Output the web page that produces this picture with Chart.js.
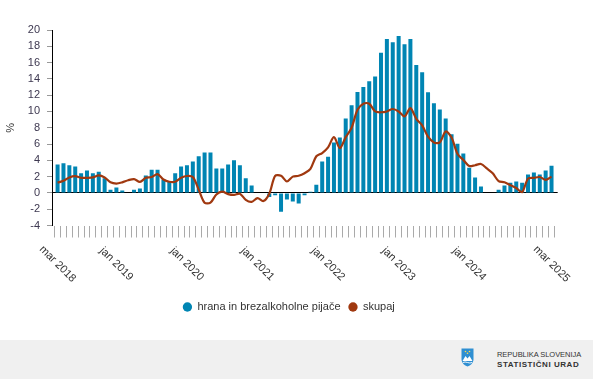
<!DOCTYPE html>
<html>
<head>
<meta charset="utf-8">
<script src="https://cdn.jsdelivr.net/npm/chart.js@4/dist/chart.umd.min.js"></script>
<style>
  html, body { margin: 0; padding: 0; background: #fff; }
  #wrap { position: relative; width: 593px; height: 379px; overflow: hidden; font-family: "Liberation Sans", Arial, sans-serif; }
  #c { position: absolute; left: 0; top: 0; }
  #footer { position: absolute; left: 0; top: 340px; width: 593px; height: 39px; background: #f0f0f0; }
  #logo { position: absolute; left: 461px; top: 348px; }
  #t1 { position: absolute; left: 497px; top: 350px; font-size: 7.5px; color: #333; letter-spacing: -0.05px; white-space: nowrap; }
  #t2 { position: absolute; left: 497px; top: 360px; font-size: 8px; font-weight: bold; color: #333; letter-spacing: 0.55px; white-space: nowrap; }
</style>
</head>
<body>
<div id="wrap">
  <canvas id="c" width="593" height="340"></canvas>
  <div id="footer"></div>
  <svg id="logo" width="13" height="19" viewBox="0 0 13 19">
    <path d="M0.5 0.5 H12.5 V11 C12.5 15 9.5 17.5 6.5 18.5 C3.5 17.5 0.5 15 0.5 11 Z" fill="#2f8fd2"/>
    <path d="M1.5 13 L4.5 8 L6.5 10.5 L8.5 8 L11.5 13 Z" fill="#fff"/>
    <path d="M2 14.5 Q4 13.5 6.5 14.5 Q9 15.5 11 14.5" stroke="#fff" stroke-width="0.9" fill="none"/>
    <circle cx="4.5" cy="3.5" r="0.8" fill="#ffd94a"/>
    <circle cx="8.5" cy="3.5" r="0.8" fill="#ffd94a"/>
    <circle cx="6.5" cy="5.3" r="0.8" fill="#ffd94a"/>
  </svg>
  <div id="t1">REPUBLIKA SLOVENIJA</div>
  <div id="t2">STATISTIČNI URAD</div>
</div>
<script>
// ---- data ----
const monthNames = ['jan','feb','mar','apr','maj','jun','jul','avg','sep','okt','nov','dec'];
const categories = [];
for (let y = 2018; y <= 2025; y++) {
  for (let m = 0; m < 12; m++) {
    if ((y === 2018 && m < 2) || (y === 2025 && m > 2)) continue;
    categories.push(monthNames[m] + ' ' + y);
  }
}
const shownLabels = ['mar 2018','jan 2019','jan 2020','jan 2021','jan 2022','jan 2023','jan 2024','mar 2025'];

const hranaLabel = 'hrana in brezalkoholne pijače';
const hrana = [
  3.5,3.65,3.4,3.25,2.4,2.75,2.4,2.6,1.8,0.4,0.65,0.3,
  0,0.4,0.55,2.15,2.85,2.85,1.65,1.45,2.4,3.25,3.4,3.85,
  4.5,4.95,4.95,3.0,3.0,3.5,4.0,3.4,1.8,0.9,0,0,
  -0.5,-0.3,-2.3,-0.8,-1.05,-1.3,-0.3,0.15,1.0,3.85,4.45,6.2,
  6.8,9.15,10.75,12.4,13.0,13.7,14.3,17.2,18.9,18.5,19.25,18.25,
  18.9,15.7,14.8,12.35,11.0,10.25,9.15,7.2,6.05,4.85,3.1,1.9,
  0.8,0,0,0.4,0.9,1.25,1.4,1.25,2.25,2.5,2.25,2.75,3.35
];
const skupajLabel = 'skupaj';
const skupaj = [
  1.25,1.5,1.9,2.05,1.85,1.85,1.9,2.15,1.9,1.3,1.15,1.3,
  1.55,1.7,1.35,1.85,1.95,2.3,1.65,1.37,1.37,1.85,2.08,1.95,
  0.4,-1.2,-1.2,-0.2,0.15,-0.15,-0.25,-0.1,-0.85,-1.1,-0.65,-1.0,
  -0.1,2.1,2.1,1.4,2.0,2.1,2.42,2.95,4.5,4.9,5.6,6.85,
  5.5,6.85,8.0,10.2,10.95,10.95,10.0,9.9,10.0,10.3,10.0,9.4,
  10.4,9.1,8.3,6.9,6.2,6.2,7.55,6.8,4.8,4.05,3.3,3.4,
  3.55,3.0,2.4,1.45,1.3,0.95,0.6,0.1,1.75,1.85,1.95,1.6,2.0
];
const yMin = -4, yMax = 20, yStep = 2;

// ---- styles ----
const BAR_COLOR = '#0085b3';
const LINE_COLOR = '#a0380f';
const FONT = '"Liberation Sans", Arial, sans-serif';

const xLabelPlugin = {
  id: 'xLabels',
  afterDraw(chart) {
    const xs = chart.scales.x;
    const ctx = chart.ctx;
    ctx.save();
    ctx.font = '11px ' + FONT;
    ctx.fillStyle = '#333';
    ctx.textAlign = 'center';
    ctx.textBaseline = 'middle';
    shownLabels.forEach(lbl => {
      const i = categories.indexOf(lbl);
      const px = xs.getPixelForValue(i);
      ctx.save();
      ctx.translate(px, 264);
      ctx.rotate(Math.PI / 4);
      ctx.fillText(lbl, 0, 0);
      ctx.restore();
    });
    ctx.restore();
  }
};
const legendShift = {
  id: 'legendShift',
  afterLayout(chart) {
    if (chart.legend) { chart.legend.left += 10; chart.legend.right += 10; }
  }
};

new Chart(document.getElementById('c'), {
  data: {
    datasets: [
      {
        type: 'bar',
        label: hranaLabel,
        data: hrana.map((v, i) => ({ x: i, y: v })),
        backgroundColor: BAR_COLOR,
        borderWidth: 0,
        barPercentage: 0.68,
        categoryPercentage: 1,
        order: 1
      },
      {
        type: 'line',
        label: skupajLabel,
        data: skupaj.map((v, i) => ({ x: i, y: v })),
        borderColor: LINE_COLOR,
        backgroundColor: LINE_COLOR,
        borderWidth: 2.2,
        pointRadius: 0,
        tension: 0.3,
        order: 0
      }
    ]
  },
  options: {
    responsive: false,
    animation: false,
    devicePixelRatio: 1,
    layout: { padding: { top: 30, left: 0, right: 35.3, bottom: 17.5 } },
    plugins: {
      tooltip: { enabled: false },
      legend: {
        position: 'bottom',
        labels: {
          usePointStyle: true,
          pointStyle: 'circle',
          boxWidth: 9,
          boxHeight: 6.6,
          padding: 8,
          color: '#333',
          font: { size: 11, family: FONT },
          sort: (a, b) => a.datasetIndex - b.datasetIndex,
          generateLabels: chart => Chart.defaults.plugins.legend.labels.generateLabels(chart)
            .map(l => Object.assign(l, { lineWidth: 0, pointStyle: 'circle' }))
        }
      }
    },
    scales: {
      x: {
        type: 'linear',
        min: -0.95,
        max: 85.05,
        offset: false,
        afterBuildTicks: s => { s.ticks = categories.map((_, i) => ({ value: i })); },
        afterFit: s => { s.height = 68; },
        ticks: { display: false },
        border: { display: false },
        grid: { drawOnChartArea: false, drawTicks: true, tickLength: 12, tickColor: '#aaa', tickWidth: 1 }
      },
      y: {
        min: yMin,
        max: yMax,
        afterFit: s => { s.width = 52; },
        ticks: { stepSize: yStep, padding: 7, color: '#3d3850', font: { size: 11, family: FONT } },
        border: { display: true, color: '#000', width: 1 },
        grid: {
          drawTicks: true,
          tickLength: 5,
          tickColor: '#999',
          color: c => (c.tick && c.tick.value === 0) ? '#000' : 'rgba(0,0,0,0)',
          lineWidth: 1
        },
        title: { display: true, text: '%', color: '#333', font: { size: 11, family: FONT }, padding: { top: 4, bottom: 4 } }
      }
    }
  },
  plugins: [xLabelPlugin, legendShift]
});
</script>
</body>
</html>
